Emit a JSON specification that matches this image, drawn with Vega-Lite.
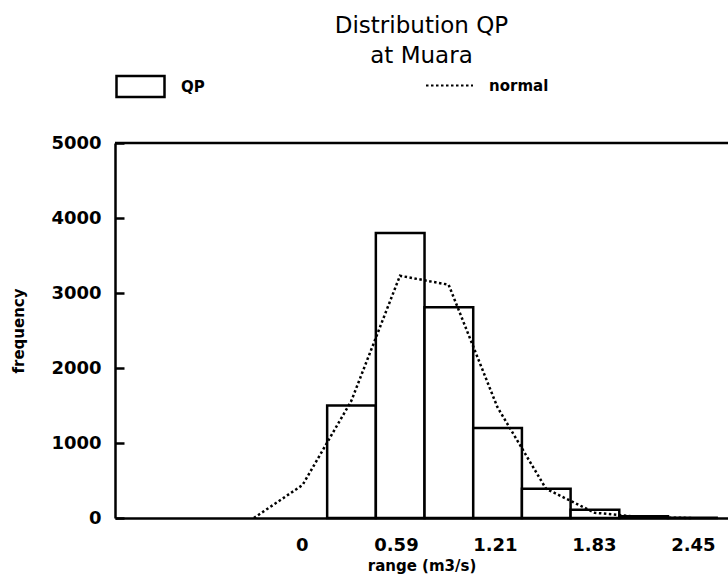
{
  "$schema": "https://vega.github.io/schema/vega-lite/v6.json",
  "width": 613,
  "height": 375,
  "autosize": {"type": "none"},
  "padding": {"left": 115, "top": 143, "right": 0, "bottom": 57},
  "background": "white",
  "config": {
    "view": {"stroke": null},
    "font": "DejaVu Sans",
    "axis": {"labelColor": "black", "titleColor": "black", "domainColor": "black", "tickColor": "black"}
  },
  "title": {
    "text": ["Distribution QP", "at Muara"],
    "fontSize": 23,
    "fontWeight": "normal",
    "lineHeight": 30,
    "anchor": "middle",
    "offset": -7,
    "color": "black"
  },
  "datasets": {
    "bars": [
      {"x0": 0.159, "x1": 0.464, "freq": 1500, "series": "QP"},
      {"x0": 0.464, "x1": 0.769, "freq": 3800, "series": "QP"},
      {"x0": 0.769, "x1": 1.074, "freq": 2810, "series": "QP"},
      {"x0": 1.074, "x1": 1.379, "freq": 1200, "series": "QP"},
      {"x0": 1.379, "x1": 1.684, "freq": 390, "series": "QP"},
      {"x0": 1.684, "x1": 1.989, "freq": 110, "series": "QP"},
      {"x0": 1.989, "x1": 2.294, "freq": 25, "series": "QP"},
      {"x0": 2.294, "x1": 2.599, "freq": 5, "series": "QP"}
    ],
    "normal": [
      {"x": -0.30, "freq": 0, "series": "normal"},
      {"x": 0.005, "freq": 440, "series": "normal"},
      {"x": 0.31, "freq": 1560, "series": "normal"},
      {"x": 0.615, "freq": 3230, "series": "normal"},
      {"x": 0.92, "freq": 3110, "series": "normal"},
      {"x": 1.225, "freq": 1480, "series": "normal"},
      {"x": 1.53, "freq": 390, "series": "normal"},
      {"x": 1.835, "freq": 70, "series": "normal"},
      {"x": 2.14, "freq": 10, "series": "normal"},
      {"x": 2.445, "freq": 0, "series": "normal"}
    ],
    "frame": [{"top": 5000}]
  },
  "layer": [
    {
      "data": {"name": "bars"},
      "mark": {"type": "rect", "fill": "white", "strokeWidth": 2.5},
      "encoding": {
        "x": {
          "field": "x0",
          "type": "quantitative",
          "scale": {"domain": [-1.17, 2.67], "nice": false, "zero": false},
          "axis": {
            "title": "range  (m3/s)",
            "values": [0, 0.59, 1.21, 1.83, 2.45],
            "format": ".2~f",
            "ticks": false,
            "grid": false,
            "labelFontSize": 18,
            "labelFontWeight": "bold",
            "labelPadding": 18,
            "labelFlush": false,
            "domainWidth": 2.5,
            "titleFontSize": 15,
            "titleFontWeight": "bold",
            "titleBaseline": "alphabetic",
            "titleY": 52
          }
        },
        "x2": {"field": "x1"},
        "y": {
          "field": "freq",
          "type": "quantitative",
          "scale": {"domain": [0, 5000], "nice": false},
          "axis": {
            "title": "frequency",
            "values": [0, 1000, 2000, 3000, 4000, 5000],
            "format": "d",
            "grid": false,
            "tickSize": -9,
            "tickWidth": 2.5,
            "domainWidth": 2.5,
            "labelFontSize": 18,
            "labelFontWeight": "bold",
            "labelPadding": 23,
            "titleFontSize": 15,
            "titleFontWeight": "bold",
            "titleBaseline": "middle",
            "titleX": -97
          }
        },
        "y2": {"datum": 0},
        "stroke": {
          "field": "series",
          "type": "nominal",
          "scale": {"range": ["black"]},
          "legend": {
            "orient": "none",
            "legendX": 0,
            "legendY": -82,
            "title": null,
            "symbolType": "M-1,-0.44H1V0.44H-1Z",
            "symbolSize": 2304,
            "symbolStrokeWidth": 2.5,
            "symbolFillColor": "white",
            "symbolStrokeColor": "black",
            "labelFontSize": 15,
            "labelFontWeight": "bold",
            "labelOffset": 15,
            "labelColor": "black"
          }
        }
      }
    },
    {
      "data": {"name": "normal"},
      "mark": {"type": "line", "color": "black", "strokeWidth": 2.5, "strokeCap": "butt"},
      "encoding": {
        "x": {"field": "x", "type": "quantitative"},
        "y": {"field": "freq", "type": "quantitative"},
        "strokeDash": {
          "field": "series",
          "type": "nominal",
          "scale": {"range": [[2.5, 2.5]]},
          "legend": {
            "orient": "none",
            "legendX": 310,
            "legendY": -82,
            "title": null,
            "symbolSize": 2209,
            "symbolStrokeWidth": 1.8,
            "symbolStrokeColor": "black",
            "labelFontSize": 15,
            "labelFontWeight": "bold",
            "labelOffset": 15,
            "labelColor": "black"
          }
        }
      }
    },
    {
      "data": {"name": "frame"},
      "mark": {"type": "rule", "strokeWidth": 2.5, "color": "black"},
      "encoding": {"y": {"field": "top", "type": "quantitative"}}
    }
  ]
}
